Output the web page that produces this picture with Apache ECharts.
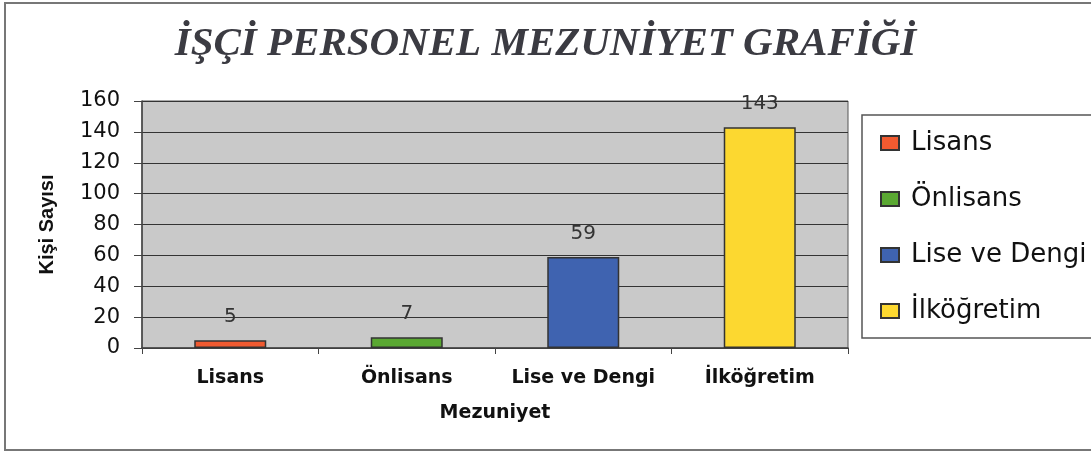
<!DOCTYPE html>
<html>
<head>
<meta charset="utf-8">
<script src="https://cdn.jsdelivr.net/npm/echarts@6/dist/echarts.min.js"></script>
<style>
  html, body { margin: 0; padding: 0; background: #fff; }
  #myChart { width: 1091px; height: 452px; }
</style>
</head>
<body>
<div id="myChart"></div>
<script>
var categories = ['Lisans', 'Önlisans', 'Lise ve Dengi', 'İlköğretim'];
var values = [5, 7, 59, 143];
var colors = ['#f05a30', '#5aa832', '#3f63b0', '#fcd830'];
var yTicks = [0, 20, 40, 60, 80, 100, 120, 140, 160];

var chartDom = document.getElementById('myChart');
var myChart = echarts.init(chartDom);

// one series per category so the legend lists every category
var series = categories.map(function (name, i) {
    var data = categories.map(function (c, j) {
        return j === i ? values[i] : '-';
    });
    return {
        name: name,
        type: 'bar',
        data: data,
        barWidth: 72,
        barGap: '-100%',
        itemStyle: { color: colors[i], borderColor: '#333', borderWidth: 1.5 },
        label: {
            show: true,
            position: 'top',
            distance: 13,
            color: '#333',
            fontFamily: 'DejaVu Sans',
            fontSize: 20
        }
    };
});

var option = {
    animation: false,
    title: {
        text: 'İŞÇİ PERSONEL MEZUNİYET GRAFİĞİ',
        left: 'center',
        top: 19,
        textStyle: {
            fontFamily: 'Liberation Serif, Times New Roman',
            fontStyle: 'italic',
            fontWeight: 'bold',
            fontSize: 41,
            color: '#3b3b42'
        }
    },
    graphic: [{
        type: 'rect',
        shape: { x: 5, y: 3, width: 1100, height: 447 },
        style: { fill: 'none', stroke: '#777', lineWidth: 2 },
        silent: true
    }],
    legend: {
        orient: 'vertical',
        left: 862,
        top: 115,
        padding: [15, 20, 14, 18],
        itemGap: 30,
        itemWidth: 18,
        itemHeight: 14,
        icon: 'rect',
        borderColor: '#555',
        borderWidth: 1.5,
        backgroundColor: '#fff',
        data: categories,
        textStyle: {
            fontFamily: 'DejaVu Sans',
            fontSize: 26,
            lineHeight: 26,
            color: '#111',
            padding: [0, 0, 0, 7]
        }
    },
    grid: {
        left: 142,
        top: 101,
        width: 706,
        height: 247,
        show: true,
        backgroundColor: '#c9c9c9',
        borderColor: '#555',
        borderWidth: 1
    },
    xAxis: {
        type: 'category',
        data: categories,
        name: 'Mezuniyet',
        nameLocation: 'middle',
        nameGap: 56,
        nameTextStyle: {
            fontFamily: 'DejaVu Sans',
            fontWeight: 'bold',
            fontSize: 19,
            color: '#111'
        },
        axisLine: { lineStyle: { color: '#444', width: 1.5 } },
        axisTick: { show: true, interval: 0, length: 6, lineStyle: { color: '#444' } },
        axisLabel: {
            interval: 0,
            hideOverlap: false,
            margin: 21,
            fontFamily: 'DejaVu Sans',
            fontWeight: 'bold',
            fontSize: 19,
            color: '#111'
        }
    },
    yAxis: {
        type: 'value',
        min: yTicks[0],
        max: yTicks[yTicks.length - 1],
        interval: 20,
        name: 'Kişi Sayısı',
        nameLocation: 'middle',
        nameGap: 85,
        nameTextStyle: {
            fontFamily: 'Liberation Sans, Arial',
            fontWeight: 'bold',
            fontSize: 20,
            color: '#111'
        },
        axisLine: { show: true, lineStyle: { color: '#444', width: 1.5 } },
        axisTick: { show: true, length: 8, lineStyle: { color: '#444' } },
        splitLine: { show: true, lineStyle: { color: '#333', width: 1 } },
        axisLabel: {
            margin: 22,
            fontFamily: 'DejaVu Sans',
            fontSize: 21,
            color: '#111'
        }
    },
    series: series
};

option && myChart.setOption(option);
</script>
</body>
</html>
